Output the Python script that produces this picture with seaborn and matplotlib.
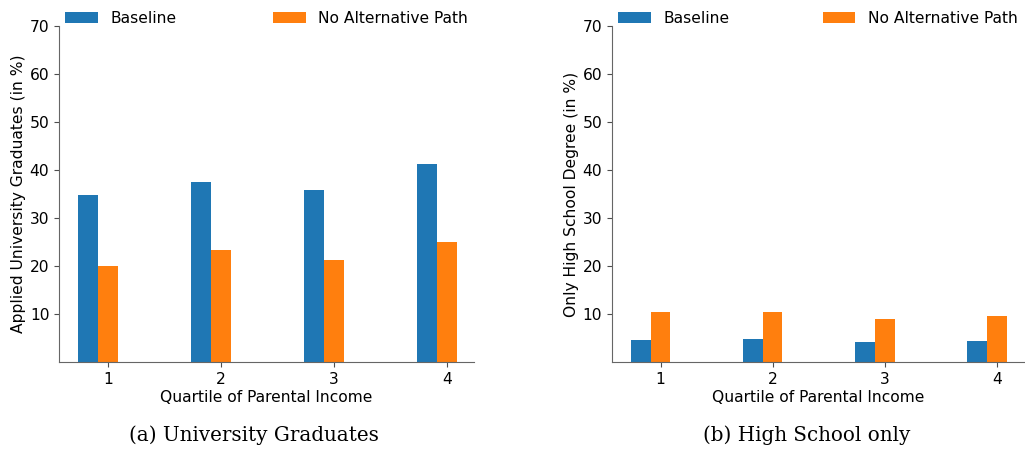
import matplotlib
matplotlib.use("Agg")
import matplotlib.pyplot as plt
import seaborn as sns
import pandas as pd

quartiles = ["1", "2", "3", "4"]
scenarios = ["Baseline", "No Alternative Path"]
uni_baseline = [34.7, 37.6, 35.8, 41.2]
uni_noalt = [19.9, 23.4, 21.3, 25.1]
hs_baseline = [4.5, 4.7, 4.1, 4.3]
hs_noalt = [10.35, 10.35, 8.9, 9.5]
yticks = [10, 20, 30, 40, 50, 60, 70]
colors = ["#1f77b4", "#ff7f0e"]


def long_df(base, alt):
    rows = []
    for q, v in zip(quartiles, base):
        rows.append({"quartile": q, "scenario": scenarios[0], "value": v})
    for q, v in zip(quartiles, alt):
        rows.append({"quartile": q, "scenario": scenarios[1], "value": v})
    return pd.DataFrame(rows)


FS = 11.2
plt.rcParams["font.family"] = ["DejaVu Sans"]
plt.rcParams["font.size"] = FS

fig = plt.figure(figsize=(10.25, 4.51), dpi=100)
ax1 = fig.add_axes([0.0576, 0.1973, 0.405, 0.7451])
ax2 = fig.add_axes([0.5970, 0.1973, 0.402, 0.7451])

W = 0.35
panels = [
    (ax1, long_df(uni_baseline, uni_noalt), "Applied University Graduates (in %)"),
    (ax2, long_df(hs_baseline, hs_noalt), "Only High School Degree (in %)"),
]
for ax, df, ylab in panels:
    sns.barplot(data=df, x="quartile", y="value", hue="scenario",
                order=quartiles, hue_order=scenarios, palette=colors,
                width=W, gap=0, saturation=1, errorbar=None, ax=ax)
    off = W / 4
    ax.set_xticks([i + off for i in range(len(quartiles))], quartiles)
    ax.set_xlim(off - 0.434, len(quartiles) - 1 + off + 0.242)
    ax.set_ylim(0, 70)
    ax.set_yticks(yticks)
    ax.set_xlabel("Quartile of Parental Income", fontsize=FS, labelpad=2)
    ax.set_ylabel(ylab, fontsize=FS, labelpad=2.5)
    ax.tick_params(labelsize=FS, color="0.3")
    sns.despine(ax=ax)
    for s in ["left", "bottom"]:
        ax.spines[s].set_color("0.4")
    ax.legend(loc="lower left", bbox_to_anchor=(0, 0.982, 1, 0.1),
              mode="expand", ncol=2, frameon=False, fontsize=FS,
              handlelength=2.1, handleheight=0.75, borderaxespad=0)

fig.text(0.248, 0.022, "(a) University Graduates", family="DejaVu Serif",
         fontsize=14.3, ha="center", va="baseline")
fig.text(0.787, 0.022, "(b) High School only", family="DejaVu Serif",
         fontsize=14.3, ha="center", va="baseline")

fig.savefig("out.png", dpi=100)
